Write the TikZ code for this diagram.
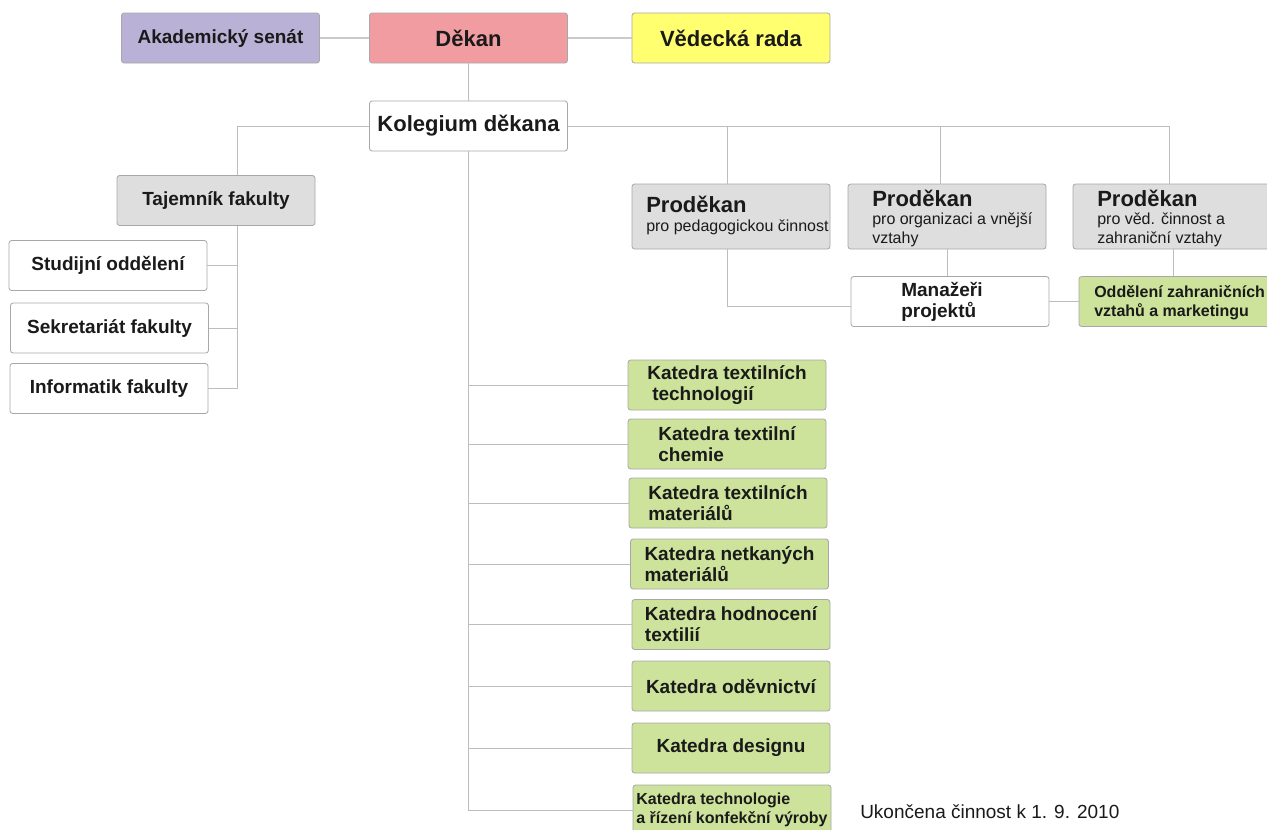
\documentclass[tikz,border=0pt]{standalone}
\usepackage{fontspec}
\setmainfont{Liberation Sans}
\definecolor{senc}{HTML}{B9B2D6}
\definecolor{dekc}{HTML}{F19CA1}
\definecolor{vrc}{HTML}{FFFF70}
\definecolor{grayc}{HTML}{DEDEDE}
\definecolor{greenc}{HTML}{CDE39B}
\definecolor{boxline}{HTML}{A8A8A8}
\definecolor{connc}{HTML}{BDBDBD}
\definecolor{txt}{HTML}{1A1A1A}
\begin{document}
\begin{tikzpicture}[x=0.75pt,y=-0.75pt,
  box/.style={draw=boxline, line width=0.6pt, rounded corners=2pt, minimum width=148.5pt,
    minimum height=37.5pt, inner sep=0pt, text=txt, align=center,
    font=\bfseries\fontsize{14.25}{15.75}\selectfont},
  bigtxt/.style={font=\bfseries\fontsize{16.5}{19}\selectfont},
  katbox/.style={box, fill=greenc, align=left},
  probox/.style={box, fill=grayc, minimum height=48.75pt},
  protitle/.style={anchor=base west, inner sep=0pt, text=txt, font=\bfseries\fontsize{16.5}{19}\selectfont},
  prosub/.style={anchor=base west, inner sep=0pt, text=txt, font=\fontsize{12}{14.25}\selectfont},
  midtxt/.style={anchor=base west, inner sep=0pt, text=txt, font=\bfseries\fontsize{14.25}{15.75}\selectfont},
  smalltxt/.style={anchor=base west, inner sep=0pt, text=txt, font=\bfseries\fontsize{12}{14.25}\selectfont},
  conn/.style={draw=connc, line width=0.75pt},
  conn2/.style={draw=connc!80, line width=1.3pt}]
\clip (0,0) rectangle (1267,829);
\fill[white] (0,0) rectangle (1267,829);

% top row
\node[box, fill=senc] (sen) at (220.5,38) {Akademický senát};
\node[box, bigtxt, fill=dekc] (dek) at (468.5,38) {Děkan};
\node[box, bigtxt, fill=vrc] (vr) at (731,38) {Vědecká rada};
\node[box, bigtxt, fill=white] (kol) at (468.5,126) {Kolegium děkana};

% left branch
\node[box, fill=grayc] (taj) at (216,200.5) {Tajemník fakulty};
\node[box, fill=white] (stu) at (108,265.5) {Studijní oddělení};
\node[box, fill=white] (sek) at (109.5,328) {Sekretariát fakulty};
\node[box, fill=white] (inf) at (109,388.5) {Informatik fakulty};

% prodekani
\node[probox] (p1) at (731,216.5) {};
\node[protitle] (p1t) at (646,212) {Proděkan};
\node[prosub] (p1s) at (646,231) {pro pedagogickou činnost};

\node[probox] (p2) at (947,216.5) {};
\node[protitle] (p2t) at (872,206) {Proděkan};
\node[prosub] (p2s) at (872,224) {pro organizaci a vnější};
\node[prosub] (p2s2) at (872,243) {vztahy};

\node[probox] (p3) at (1172,216.5) {};
\node[protitle] (p3t) at (1097,206) {Proděkan};
\node[prosub] (p3s) at (1097,224) {pro věd. činnost a};
\node[prosub] (p3s2) at (1097,243) {zahraniční vztahy};

\node[box, fill=white] (man) at (950,301.5) {};
\node[midtxt] (mant) at (901,296) {Manažeři};
\node[midtxt] (mant2) at (901,317) {projektů};

\node[box, fill=greenc] (odd) at (1178,301.5) {};
\node[smalltxt] (oddt) at (1094,297) {Oddělení zahraničních};
\node[smalltxt] (oddt2) at (1094,316) {vztahů a marketingu};

% katedry
\node[katbox] (k1) at (727,385) {Katedra textilních\\\hspace*{3.75pt}technologií};
\node[katbox] (k2) at (727,444) {Katedra textilní\\chemie};
\node[katbox] (k3) at (728,503) {Katedra textilních\\materiálů};
\node[katbox] (k4) at (729.5,564) {Katedra netkaných\\materiálů};
\node[katbox] (k5) at (731,624.5) {Katedra hodnocení\\textilií};
\node[katbox] (k6) at (731,686) {Katedra oděvnictví};
\node[katbox] (k7) at (731,748) {Katedra designu};
\node[katbox, font=\bfseries\fontsize{12}{14.25}\selectfont] (k8) at (732,810) {Katedra technologie\\a řízení konfekční výroby};

\node[anchor=west, inner sep=0pt, text=txt, font=\fontsize{14.25}{16}\selectfont] (note) at (860,812) {Ukončena činnost k 1. 9. 2010};

% connectors
\draw[conn2] (sen) -- (dek);
\draw[conn2] (dek) -- (vr);
\draw[conn] (dek) -- (kol);
\draw[conn] (kol.west) -| ([xshift=15.75pt]taj.north);
\coordinate (tajb) at ([xshift=15.75pt]taj.south);
\draw[conn] (tajb) |- (inf.east);
\draw[conn] (stu.east) -- (stu.east -| tajb);
\draw[conn] (sek.east) -- (sek.east -| tajb);

\draw[conn] (kol.east) -| ([xshift=-2.25pt]p3.north);
\draw[conn] ([xshift=-3pt]p1.north) -- ([xshift=-3pt]p1.north |- kol.east);
\draw[conn] ([xshift=-5.25pt]p2.north) -- ([xshift=-5.25pt]p2.north |- kol.east);
\draw[conn] ([xshift=-3pt]p1.south) |- ([yshift=-4.1pt]man.west);
\draw[conn] (p2.south) -- (p2.south |- man.north);
\coordinate (p3b) at ([xshift=0.75pt]p3.south);
\draw[conn] (p3b) -- (p3b |- odd.north);
\draw[conn] (man.east) -- (odd.west);

\draw[conn] (kol.south) |- (k8.west);
\foreach \k in {k1,k2,k3,k4,k5,k6,k7}{
  \draw[conn] (\k.west) -- (\k.west -| kol.south);
}
\end{tikzpicture}
\end{document}
